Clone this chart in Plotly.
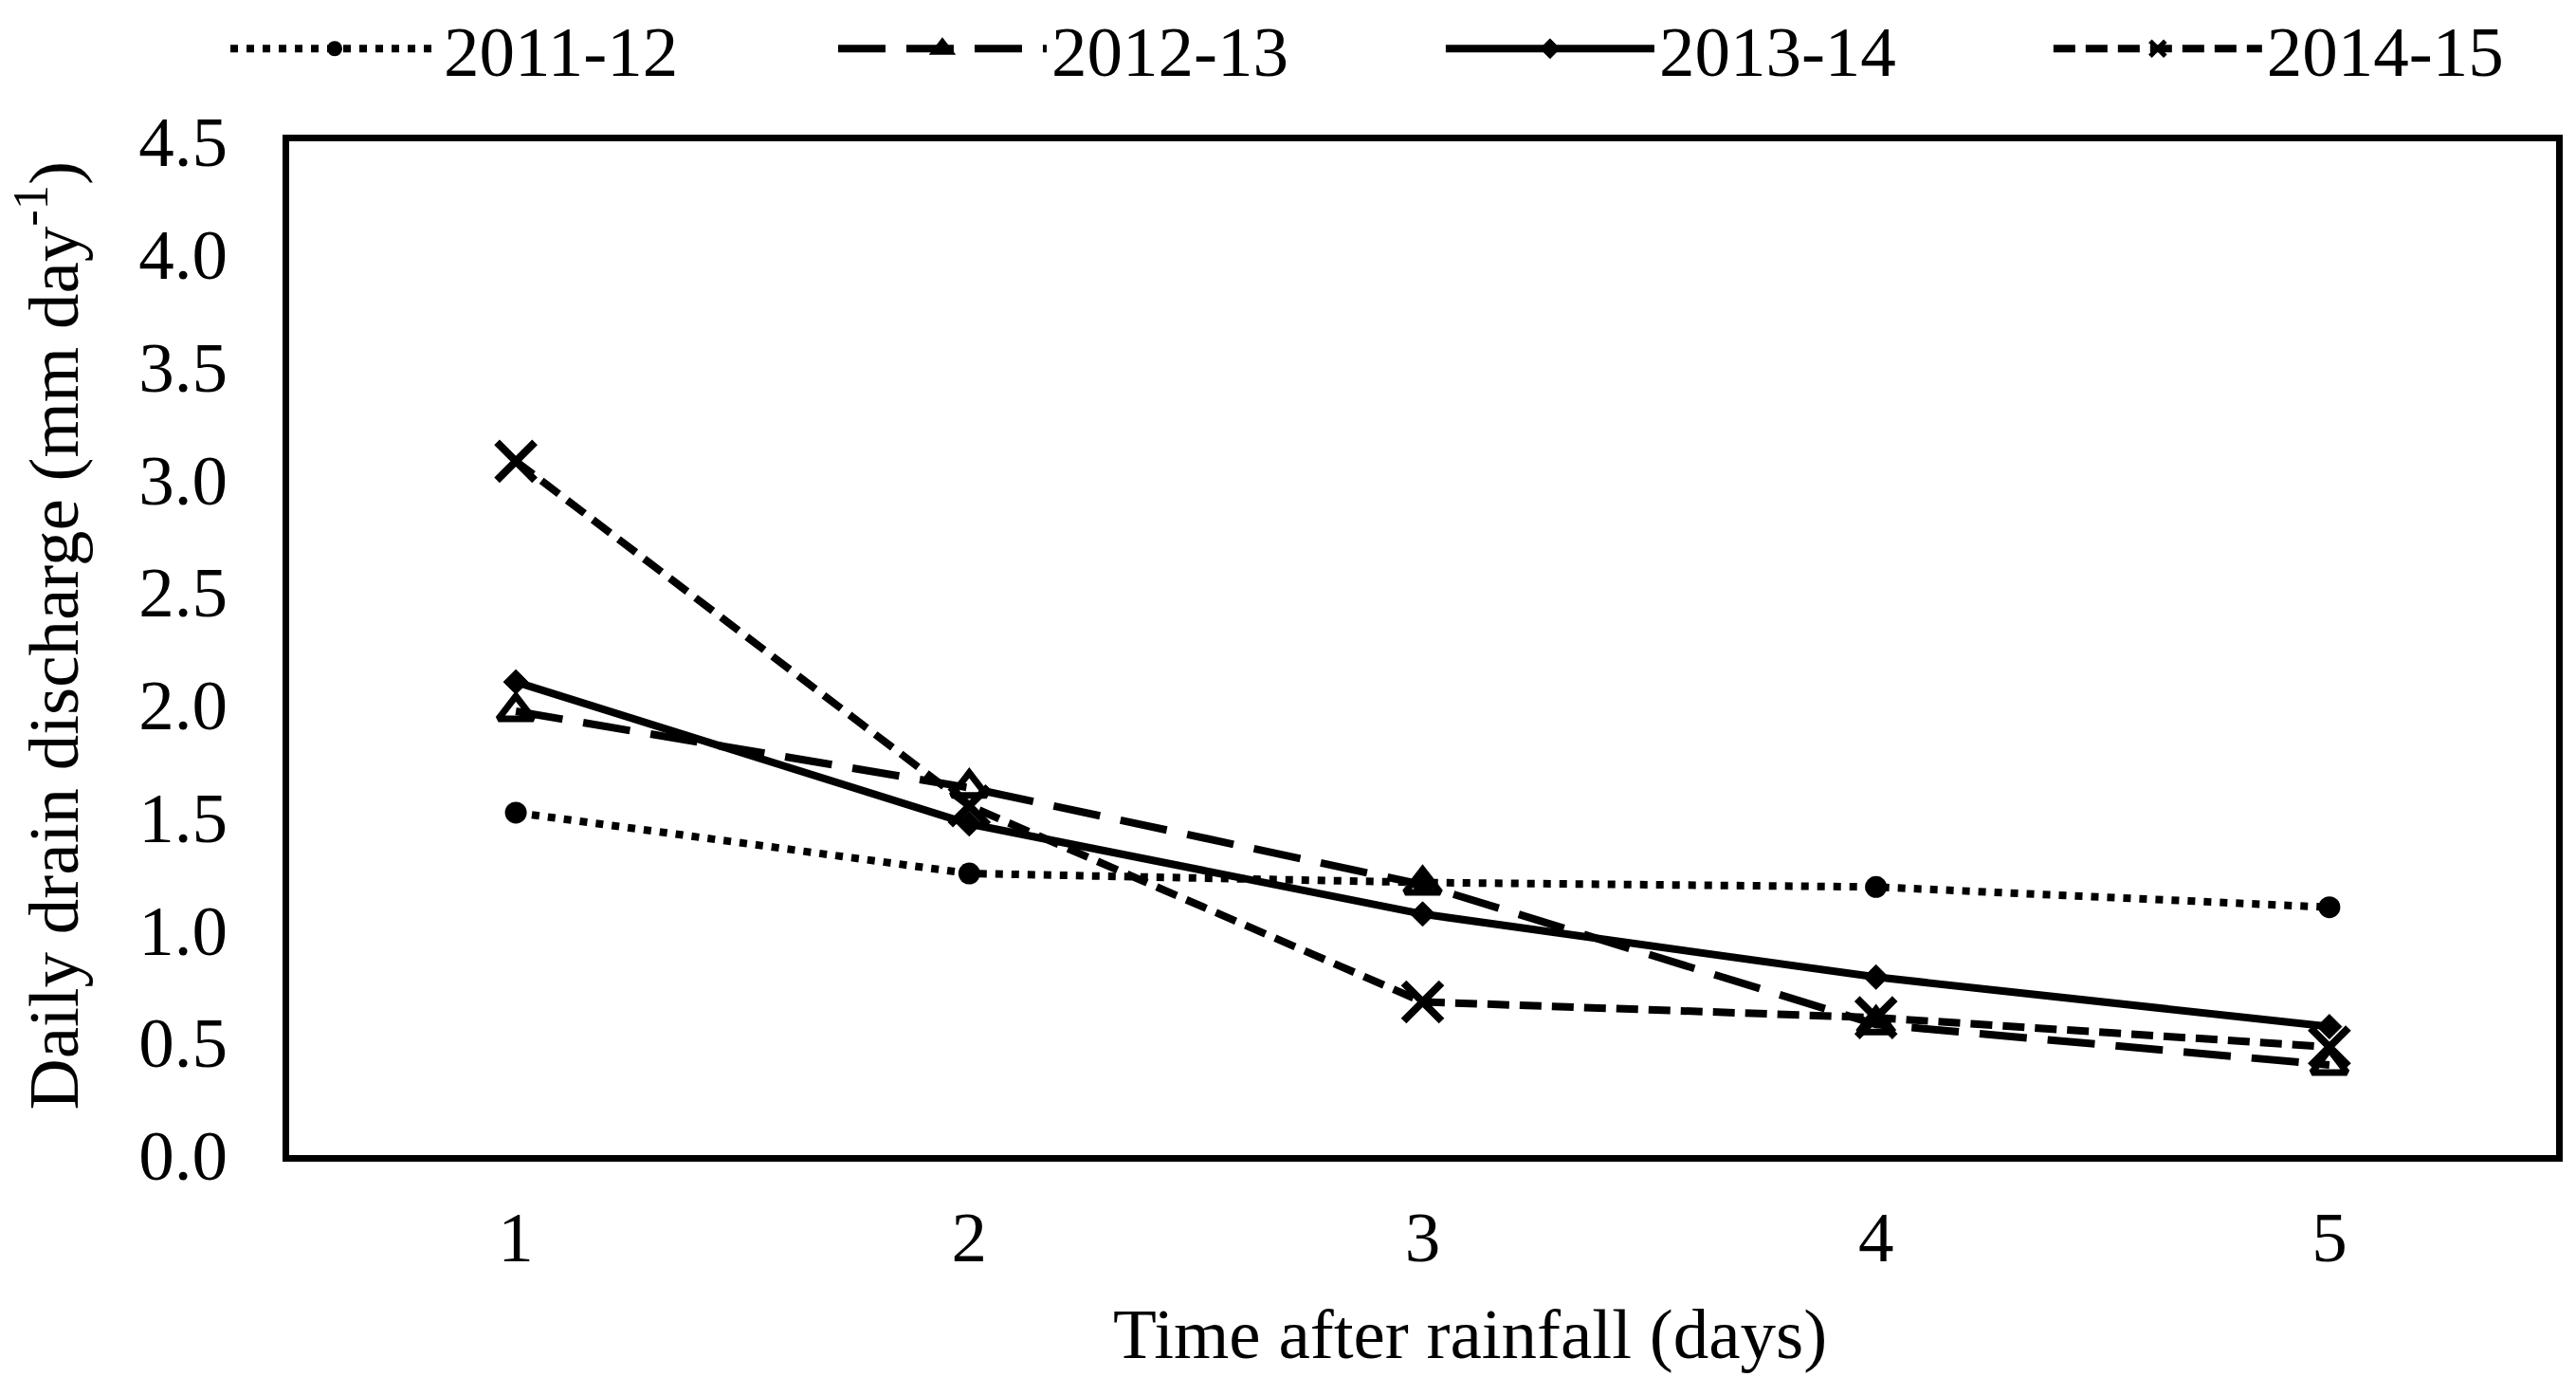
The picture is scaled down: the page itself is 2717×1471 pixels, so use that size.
import plotly.graph_objects as go

days = [1, 2, 3, 4, 5]
s_2011_12 = [1.52, 1.25, 1.21, 1.19, 1.10]
s_2012_13 = [1.97, 1.63, 1.20, 0.58, 0.40]
s_2013_14 = [2.10, 1.47, 1.07, 0.79, 0.57]
s_2014_15 = [3.08, 1.55, 0.68, 0.61, 0.48]
y_ticks = [0.0, 0.5, 1.0, 1.5, 2.0, 2.5, 3.0, 3.5, 4.0, 4.5]
y_tick_labels = [f"{v:.1f}" for v in y_ticks]
x_title = "Time after rainfall (days)"
y_title = "Daily drain discharge (mm day<sup>-1</sup>)"

FONT = "Liberation Serif"
FS = 75

fig = go.Figure()
fig.add_trace(go.Scatter(
    x=days, y=s_2011_12, name="2011-12", mode="lines+markers", legend="legend",
    line=dict(color="black", width=8, dash="8px,9px"),
    marker=dict(symbol="circle", size=23, color="black")))
fig.add_trace(go.Scatter(
    x=days, y=s_2012_13, name="2012-13", mode="lines+markers", legend="legend2",
    line=dict(color="black", width=8, dash="50px,22px"),
    marker=dict(symbol="triangle-up-open", size=32, color="black",
                line=dict(color="black", width=7))))
fig.add_trace(go.Scatter(
    x=days, y=s_2013_14, name="2013-14", mode="lines+markers", legend="legend3",
    line=dict(color="black", width=8),
    marker=dict(symbol="diamond", size=20, color="black",
                line=dict(color="black", width=1))))
fig.add_trace(go.Scatter(
    x=days, y=s_2014_15, name="2014-15", mode="lines+markers", legend="legend4",
    line=dict(color="black", width=8, dash="23px,11px"),
    marker=dict(symbol="x-thin-open", size=40, color="black",
                line=dict(color="black", width=8))))

def legend_at(xpos):
    return dict(orientation="h", xref="container", yref="container",
                x=xpos, xanchor="left", y=0.965, yanchor="middle",
                font=dict(family=FONT, size=FS, color="black"),
                itemwidth=220, bgcolor="rgba(0,0,0,0)", borderwidth=0)

fig.update_layout(
    width=2717, height=1471,
    margin=dict(l=305, r=21, t=149, b=253, autoexpand=False),
    paper_bgcolor="white", plot_bgcolor="white",
    font=dict(family=FONT, size=FS, color="black"),
    showlegend=True,
    legend=legend_at(0.0876),
    legend2=legend_at(0.0876 + 0.2359),
    legend3=legend_at(0.0876 + 2 * 0.2359),
    legend4=legend_at(0.0876 + 3 * 0.2359),
    xaxis=dict(range=[0.5, 5.5], tickvals=days, ticktext=[str(d) for d in days],
               showgrid=False, zeroline=False, showline=True, linecolor="black",
               linewidth=7, mirror=True, ticks="", ticklabelstandoff=15),
    yaxis=dict(range=[0, 4.5], tickvals=y_ticks, ticktext=y_tick_labels,
               showgrid=False, zeroline=False, showline=True, linecolor="black",
               linewidth=7, mirror=True, ticks="", ticklabelstandoff=43),
    annotations=[
        dict(text=x_title, xref="paper", yref="paper", x=0.521, y=-0.1768,
             xanchor="center", yanchor="middle", showarrow=False,
             font=dict(family=FONT, size=FS, color="black")),
        dict(text=y_title, xref="paper", yref="paper", x=-0.1063, y=0.512,
             xanchor="center", yanchor="middle", showarrow=False, textangle=-90,
             font=dict(family=FONT, size=FS, color="black")),
    ],
)

fig.write_html("out.html", config={"displayModeBar": False},
               post_script="document.body.style.margin='0';document.body.style.overflow='hidden';")
